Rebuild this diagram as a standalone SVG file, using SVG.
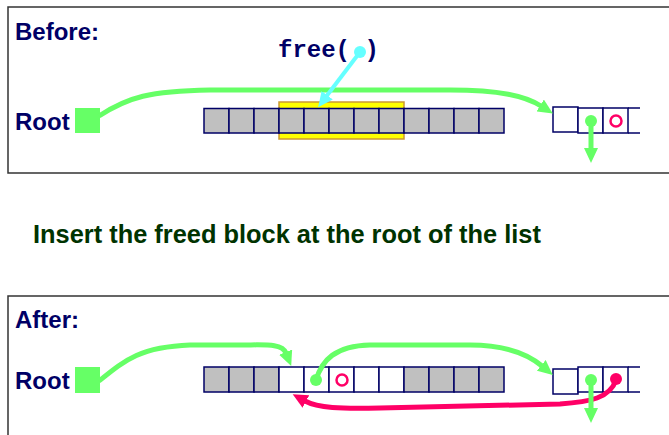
<svg xmlns="http://www.w3.org/2000/svg" width="669" height="435" viewBox="0 0 669 435">
<style>
.frame{fill:#fff;stroke:#333;stroke-width:1.5}
.lbl{font-family:"Liberation Sans",Arial,sans-serif;font-weight:bold;font-size:24px;fill:#000066}
.code{font-family:"Liberation Mono","Courier New",monospace;font-weight:bold;font-size:24px;fill:#000066}
.title{font-family:"Liberation Sans",Arial,sans-serif;font-weight:bold;font-size:25.4px;fill:#003300}
.root{fill:#66ff66}
.alloc{fill:#c0c0c0;stroke:#000066;stroke-width:1.5}
.free{fill:#fff;stroke:#000066;stroke-width:1.5}
.edge{fill:none;stroke:#000066;stroke-width:1.5}
.g{fill:none;stroke:#66ff66;stroke-width:5}
.r{fill:none;stroke:#ff0066;stroke-width:5}
.c{fill:none;stroke:#66ffff;stroke-width:4}
.ring{fill:none;stroke:#ff0066;stroke-width:2.5}
</style>
<defs>
<marker id="ag" markerUnits="userSpaceOnUse" markerWidth="16" markerHeight="14" refX="1" refY="7" orient="auto"><path d="M0,0 L15,7 L0,14 z" fill="#66ff66"/></marker>
<marker id="ar" markerUnits="userSpaceOnUse" markerWidth="16" markerHeight="14" refX="1" refY="7" orient="auto"><path d="M0,0 L15,7 L0,14 z" fill="#ff0066"/></marker>
<marker id="ac" markerUnits="userSpaceOnUse" markerWidth="16" markerHeight="14" refX="1" refY="7" orient="auto"><path d="M0,0 L15,7 L0,14 z" fill="#66ffff"/></marker>
</defs>

<g id="panel-before">
<path class="frame" d="M680,7 L8,7 L8,173 L680,173"/>
<text class="lbl" x="15" y="40">Before:</text>
<text class="lbl" x="15" y="130">Root</text>
</g>
<g id="root-before"><rect class="root" x="75" y="108" width="25" height="25"/></g>
<g id="heap-before">
<rect x="279" y="102" width="125" height="37" fill="#ffff00" stroke="#cc9933" stroke-width="1.5"/>
<rect class="alloc" x="204" y="108.5" width="25" height="24.5"/>
<rect class="alloc" x="229" y="108.5" width="25" height="24.5"/>
<rect class="alloc" x="254" y="108.5" width="25" height="24.5"/>
<rect class="alloc" x="279" y="108.5" width="25" height="24.5"/>
<rect class="alloc" x="304" y="108.5" width="25" height="24.5"/>
<rect class="alloc" x="329" y="108.5" width="25" height="24.5"/>
<rect class="alloc" x="354" y="108.5" width="25" height="24.5"/>
<rect class="alloc" x="379" y="108.5" width="25" height="24.5"/>
<rect class="alloc" x="404" y="108.5" width="25" height="24.5"/>
<rect class="alloc" x="429" y="108.5" width="25" height="24.5"/>
<rect class="alloc" x="454" y="108.5" width="25" height="24.5"/>
<rect class="alloc" x="479" y="108.5" width="25" height="24.5"/>
</g>
<g id="free-call"><text class="code" x="278" y="57">free( )</text></g>
<g id="list-before">
<rect class="free" x="553" y="107" width="25" height="25"/>
<rect class="free" x="578" y="108" width="25" height="25"/>
<rect class="free" x="603" y="108" width="25" height="25"/>
<path class="edge" d="M628,108 L640,108 M628,133 L640,133"/>
<circle class="ring" cx="616" cy="121" r="5.5"/>
</g>

<g id="caption"><text class="title" x="33" y="243">Insert the freed block at the root of the list</text></g>

<g id="panel-after">
<path class="frame" d="M680,296 L8,296 L8,440"/>
<text class="lbl" x="15" y="389">Root</text>
<text class="lbl" x="15" y="328">After:</text>
</g>
<g id="root-after"><rect class="root" x="75" y="367" width="25" height="26"/></g>
<g id="heap-after">
<rect class="alloc" x="204" y="367" width="25" height="25"/>
<rect class="alloc" x="229" y="367" width="25" height="25"/>
<rect class="alloc" x="254" y="367" width="25" height="25"/>
<rect class="free" x="279" y="367" width="25" height="25"/>
<rect class="free" x="304" y="367" width="25" height="25"/>
<rect class="free" x="329" y="367" width="25" height="25"/>
<rect class="free" x="354" y="367" width="25" height="25"/>
<rect class="free" x="379" y="367" width="25" height="25"/>
<rect class="alloc" x="404" y="367" width="25" height="25"/>
<rect class="alloc" x="429" y="367" width="25" height="25"/>
<rect class="alloc" x="454" y="367" width="25" height="25"/>
<rect class="alloc" x="479" y="367" width="25" height="25"/>
<circle class="ring" cx="342" cy="380" r="5.5"/>
</g>
<g id="list-after">
<rect class="free" x="553" y="369" width="25" height="25"/>
<rect class="free" x="578" y="367" width="25" height="25"/>
<rect class="free" x="603" y="367" width="25" height="25"/>
<path class="edge" d="M628,367 L640,367 M628,392 L640,392"/>
</g>

<g id="connectors">
<path class="g" marker-end="url(#ag)" d="M99,116 C128,97 150,91 210,90 L450,90 C500,90 525,96 541,106"/>
<path class="c" marker-end="url(#ac)" d="M360,52 L326.6,96"/>
<circle cx="360" cy="52" r="6" fill="#66ffff"/>
<path class="g" marker-end="url(#ag)" d="M591,121 L591,149"/>
<circle cx="591" cy="121" r="6" fill="#66ff66"/>

<path class="g" marker-end="url(#ag)" d="M99,381 C125,360 140,347 190,345 L240,345 C265,345 282,343 286,353"/>
<path class="g" marker-end="url(#ag)" d="M316,380 C322,360 335,346 370,345 L470,345 C510,345 530,356 542,366"/>
<circle cx="316" cy="380" r="6" fill="#66ff66"/>
<path class="r" marker-end="url(#ar)" d="M616,380 C610,398 590,402 560,404 L380,408 C340,409 318,408 305,401"/>
<circle cx="616" cy="379" r="6" fill="#ff0066"/>
<path class="g" marker-end="url(#ag)" d="M591,380 L591,409"/>
<circle cx="591" cy="380" r="6" fill="#66ff66"/>
</g>
</svg>
